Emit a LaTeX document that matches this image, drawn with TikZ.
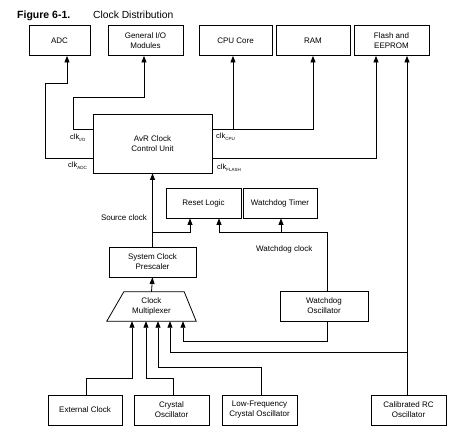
\documentclass[tikz,border=0pt]{standalone}
\usepackage{fontspec}
\setmainfont{Liberation Sans}
\usetikzlibrary{arrows.meta}
\newcommand{\clksub}[1]{clk\raisebox{-2.5pt}{\fontsize{4.5}{5}\selectfont #1}}
\begin{document}
\begin{tikzpicture}[x=1pt,y=-1pt,
  box/.style={draw,line width=0.8pt,minimum height=30pt,inner sep=0pt,align=center,font=\fontsize{8}{10}\selectfont},
  wire/.style={line width=0.8pt},
  arr/.style={wire,-{Triangle[length=6.5pt,width=5pt]}},
  lbl/.style={font=\fontsize{8}{10}\selectfont,inner sep=0pt},
  clklbl/.style={font=\fontsize{7.5}{9}\selectfont,inner sep=0pt,anchor=base west}]
\useasboundingbox (0,0) rectangle (472,442);

% title
\node[anchor=base west,inner sep=0pt,font=\fontsize{10.5}{12}\selectfont\bfseries] (fig) at (17,18) {Figure 6-1.};
\node[anchor=base west,inner sep=0pt,font=\fontsize{10.3}{12}\selectfont] (ttl) at (93,18) {Clock Distribution};

% top row
\node[box,minimum width=61pt] (adc) at (59.5,40.5) {ADC};
\node[box,minimum width=75pt] (gio) at (145.5,40.5) {General I/O\\Modules};
\node[box,minimum width=73pt] (cpu) at (235.5,40.5) {CPU Core};
\node[box,minimum width=74pt] (ram) at (313,40.5) {RAM};
\node[box,minimum width=75pt] (flash) at (391.5,40.5) {Flash and\\EEPROM};

% control unit
\node[box,minimum width=119pt,minimum height=59pt] (avr) at (152.5,143.5) {AvR Clock\\Control Unit};

% reset / watchdog
\node[box,minimum width=75pt] (reset) at (203.5,203) {Reset Logic};
\node[box,minimum width=74pt] (wdt) at (280,203) {Watchdog Timer};

% prescaler
\node[box,minimum width=87pt] (presc) at (152.5,262) {System Clock\\Prescaler};

% multiplexer
\node[minimum width=89pt,minimum height=29pt,inner sep=0pt,align=center,font=\fontsize{8}{10}\selectfont] (mux) at (151.5,306.5) {Clock\\Multiplexer};
\draw[wire] ([xshift=17pt]mux.north west) -- ([xshift=-12pt]mux.north east) -- (mux.south east) -- (mux.south west) -- cycle;

% watchdog oscillator
\node[box,minimum width=88pt] (wdo) at (324,306) {Watchdog\\Oscillator};

% bottom row
\node[box,minimum width=74pt] (ext) at (85,410) {External Clock};
\node[box,minimum width=75pt] (xtal) at (171.5,410) {Crystal\\Oscillator};
\node[box,minimum width=75pt] (lf) at (259.5,410) {Low-Frequency\\Crystal Oscillator};
\node[box,minimum width=75pt] (rc) at (408.5,410) {Calibrated RC\\Oscillator};

% clock outputs of control unit
\draw[arr] (avr.west |- 0,158) -| (45,83) -| (adc.south -| 67,0);
\draw[arr] (avr.west |- 0,129) -| (73,97) -| (gio.south -| 144,0);
\draw[arr] (avr.east |- 0,129) -| (ram.south -| 313,0);
\draw[arr] (233,129) -- (cpu.south -| 233,0);
\draw[arr] (avr.east |- 0,158) -| (flash.south -| 376,0);
\draw[arr] (rc.north -| 407,0) -- (flash.south -| 407,0);

\node[clklbl] (lio) at (70,139) {\clksub{I/O}};
\node[clklbl] (ladc) at (68,167) {\clksub{ADC}};
\node[clklbl] (lcpu) at (216,138) {\clksub{CPU}};
\node[clklbl] (lfl) at (217,169) {\clksub{FLASH}};

% source clock
\draw[arr] (presc.north) -- (avr.south);
\draw[arr] (152,232) -| (reset.south -| 190,0);
\node[lbl,anchor=base east] (lsrc) at (147,220) {Source clock};

% watchdog clock
\draw[arr] (wdo.north -| 327,0) |- (219,232) -- (reset.south -| 219,0);
\draw[arr] (281,232) -- (wdt.south -| 281,0);
\node[lbl,anchor=base west] (lwd) at (256,251) {Watchdog clock};

% multiplexer to prescaler
\draw[arr] (mux.north) -- (presc.south);

% multiplexer inputs
\draw[arr] (ext.north -| 86,0) |- (132,378) -- (mux.south -| 132,0);
\draw[arr] (xtal.north -| 173,0) |- (146,378) -- (mux.south -| 146,0);
\draw[arr] (lf.north -| 261,0) |- (158,367) -- (mux.south -| 158,0);
\draw[arr] (407,352) -| (mux.south -| 170,0);
\draw[arr] (wdo.south -| 327,0) |- (183,341) -- (mux.south -| 183,0);
\end{tikzpicture}
\end{document}
